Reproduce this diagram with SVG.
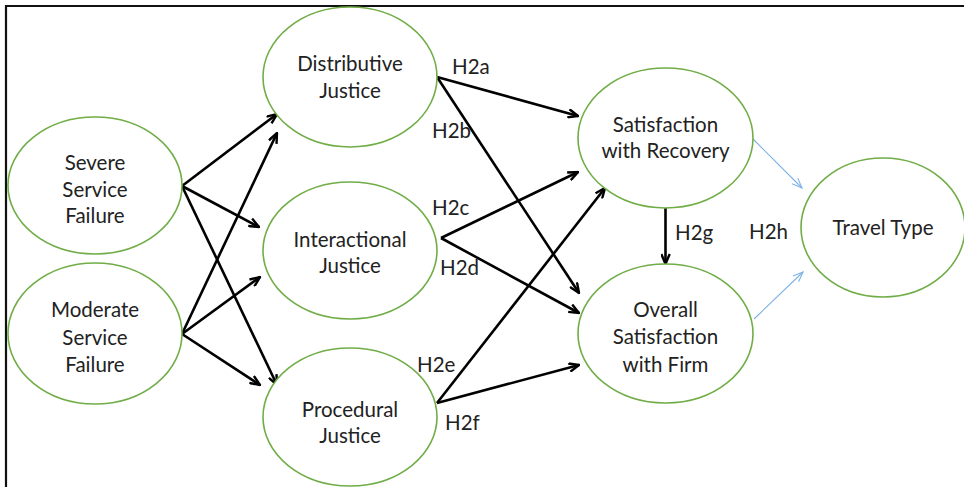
<svg xmlns="http://www.w3.org/2000/svg" width="964" height="487" viewBox="0 0 964 487">
  <style>
    .node ellipse { fill: #ffffff; stroke: #70AD47; stroke-width: 1.6; }
    .node text, .lbl { font-family: Lato, "Liberation Sans", sans-serif; font-size: 20.5px; fill: #222222; text-anchor: middle; }
    .lbl { text-anchor: start; }
    .path { stroke: #000000; stroke-width: 2.6; fill: none; marker-end: url(#arrow); }
    .mod { stroke: #7EB2E4; stroke-width: 1.1; fill: none; marker-end: url(#arrowThin); }
  </style>
  <defs>
    <marker id="arrow" viewBox="0 0 12 10" refX="11" refY="5" markerWidth="12" markerHeight="10" markerUnits="userSpaceOnUse" orient="auto">
      <path d="M1,0.8 L11,5 L1,9.2" fill="none" stroke="#000000" stroke-width="2.4"/>
    </marker>
    <marker id="arrowThin" viewBox="0 0 12 10" refX="11" refY="5" markerWidth="12" markerHeight="10" markerUnits="userSpaceOnUse" orient="auto">
      <path d="M1,1 L11,5 L1,9" fill="none" stroke="#7EB2E4" stroke-width="1.1"/>
    </marker>
  </defs>

  <rect width="964" height="487" fill="#ffffff"/>
  <!-- frame -->
  <path d="M6,487 L6,6 L964,6" fill="none" stroke="#111111" stroke-width="2.2"/>

  <!-- connectors -->
  <g id="connectors">
    <line class="path" x1="182" y1="186" x2="277" y2="114"/>
    <line class="path" x1="182" y1="186" x2="259" y2="227"/>
    <line class="path" x1="182" y1="186" x2="277" y2="385"/>
    <line class="path" x1="182" y1="334" x2="277" y2="133"/>
    <line class="path" x1="182" y1="334" x2="260" y2="277"/>
    <line class="path" x1="182" y1="334" x2="260" y2="385"/>
    <line class="path" x1="437" y1="77" x2="578" y2="116"/>
    <line class="path" x1="437" y1="77" x2="579" y2="293"/>
    <line class="path" x1="441" y1="238" x2="578" y2="172"/>
    <line class="path" x1="441" y1="238" x2="579" y2="313"/>
    <line class="path" x1="437" y1="403" x2="605" y2="188"/>
    <line class="path" x1="437" y1="403" x2="579" y2="365"/>
    <line class="path" x1="665.5" y1="208" x2="665.5" y2="264"/>
    <line class="mod" x1="753" y1="139" x2="802" y2="188"/>
    <line class="mod" x1="754" y1="319" x2="803" y2="272"/>
  </g>

  <!-- hypothesis labels -->
  <g id="labels">
    <text class="lbl" x="452" y="74">H2a</text>
    <text class="lbl" x="432" y="138">H2b</text>
    <text class="lbl" x="432" y="215">H2c</text>
    <text class="lbl" x="440" y="275">H2d</text>
    <text class="lbl" x="417" y="372">H2e</text>
    <text class="lbl" x="445" y="430">H2f</text>
    <text class="lbl" x="675" y="240">H2g</text>
    <text class="lbl" x="749" y="239">H2h</text>
  </g>

  <g id="severe" class="node">
    <ellipse cx="95" cy="185.5" rx="87" ry="68.5"/>
    <text x="95" y="170">Severe</text>
    <text x="95" y="197">Service</text>
    <text x="95" y="223">Failure</text>
  </g>
  <g id="moderate" class="node">
    <ellipse cx="95" cy="333.5" rx="87" ry="70.5"/>
    <text x="95" y="317">Moderate</text>
    <text x="95" y="345">Service</text>
    <text x="95" y="372">Failure</text>
  </g>
  <g id="distributive" class="node">
    <ellipse cx="350" cy="77" rx="87" ry="70"/>
    <text x="350" y="71">Distributive</text>
    <text x="350" y="98">Justice</text>
  </g>
  <g id="interactional" class="node">
    <ellipse cx="350" cy="250.5" rx="87" ry="68.5"/>
    <text x="350" y="247">Interactional</text>
    <text x="350" y="273">Justice</text>
  </g>
  <g id="procedural" class="node">
    <ellipse cx="350" cy="417" rx="87" ry="69"/>
    <text x="350" y="417">Procedural</text>
    <text x="350" y="443">Justice</text>
  </g>
  <g id="recovery" class="node">
    <ellipse cx="665.5" cy="138" rx="87.5" ry="70"/>
    <text x="665.5" y="132">Satisfaction</text>
    <text x="665.5" y="158">with Recovery</text>
  </g>
  <g id="overall" class="node">
    <ellipse cx="665.5" cy="333.5" rx="87.5" ry="69.5"/>
    <text x="665.5" y="317">Overall</text>
    <text x="665.5" y="344">Satisfaction</text>
    <text x="665.5" y="372">with Firm</text>
  </g>
  <g id="travel" class="node">
    <ellipse cx="883" cy="227.5" rx="82" ry="69.5"/>
    <text x="883" y="235">Travel Type</text>
  </g>
</svg>
